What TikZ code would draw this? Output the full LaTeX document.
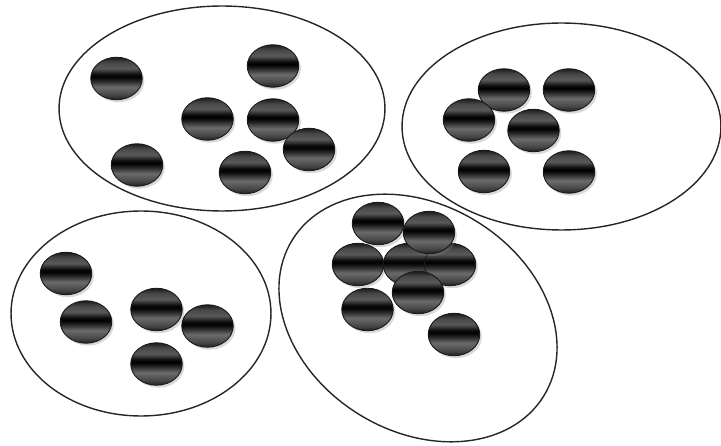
\documentclass[tikz,border=0pt]{standalone}
\usepackage{amsmath,amssymb,tikz}
\usepackage{xcolor}
\usetikzlibrary{shapes.geometric,shadows}

\pgfdeclareverticalshading{ballshade}{100bp}{color(0bp)=(black!88); color(25bp)=(black!88); color(31bp)=(black!72); color(40bp)=(black!58); color(48bp)=(black!88); color(52bp)=(black); color(55bp)=(black!95); color(62bp)=(black!65); color(69bp)=(black!72); color(75bp)=(black!90); color(100bp)=(black!90)}

\begin{document}
\begin{tikzpicture}[x=0.02cm,y=-0.02cm,
		group/.style={draw=black!85, line width=0.8pt, ellipse, inner sep=0pt},
		ball/.style={draw=black!90, line width=0.5pt, ellipse, inner sep=0pt,
			minimum width=1.03cm, minimum height=0.85cm, shading=ballshade,
			drop shadow={shadow xshift=1.2pt, shadow yshift=-1.4pt, opacity=0.3}}]
		\useasboundingbox (0,0) rectangle (721,446);

		% Groups
		\node[group, minimum width=6.52cm, minimum height=4.10cm] (setA) at (222,108.5) {};
		\node[group, minimum width=6.38cm, minimum height=4.14cm] (setB) at (561.5,126.5) {};
		\node[group, minimum width=5.20cm, minimum height=4.10cm] (setC) at (141,313.5) {};
		\node[group, minimum width=5.92cm, minimum height=4.52cm, rotate=-32] (setD) at (418,318) {};

		% Group A
		\node[ball] (a1) at (116.5,78.5) {};
		\node[ball] (a2) at (273,66) {};
		\node[ball] (a3) at (207.5,119) {};
		\node[ball] (a4) at (273,120) {};
		\node[ball] (a5) at (309,149.5) {};
		\node[ball] (a6) at (137,165) {};
		\node[ball] (a7) at (245,172.5) {};

		% Group B
		\node[ball] (b1) at (504,90) {};
		\node[ball] (b2) at (569,90) {};
		\node[ball] (b3) at (469,120) {};
		\node[ball] (b4) at (533.5,130.5) {};
		\node[ball] (b5) at (484,171.5) {};
		\node[ball] (b6) at (569,172) {};

		% Group C
		\node[ball] (c1) at (66,273.5) {};
		\node[ball] (c2) at (86,322) {};
		\node[ball] (c3) at (156.5,309.5) {};
		\node[ball] (c4) at (207.5,326) {};
		\node[ball] (c5) at (156.5,364) {};

		% Group D (overlapping, back to front)
		\node[ball] (d1) at (378,223.5) {};
		\node[ball] (d2) at (358,264.5) {};
		\node[ball] (d3) at (409,264.5) {};
		\node[ball] (d4) at (450,264.5) {};
		\node[ball] (d5) at (429,232.5) {};
		\node[ball] (d6) at (418,292.5) {};
		\node[ball] (d7) at (367.5,309.5) {};
		\node[ball] (d8) at (454,334.5) {};

	\end{tikzpicture}
\end{document}
